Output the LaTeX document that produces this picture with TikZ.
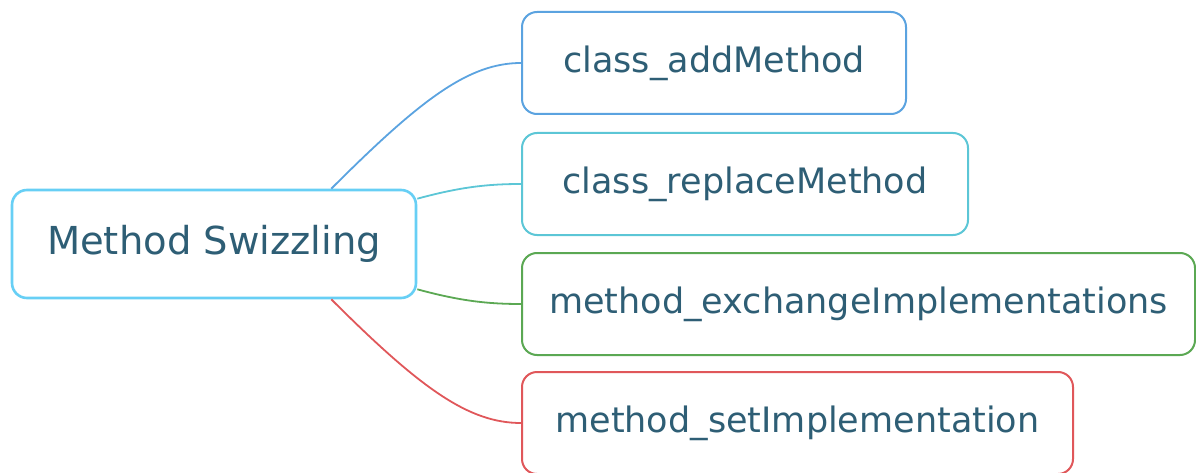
\documentclass[tikz,border=0pt]{standalone}
\usepackage{fontspec}
\setmainfont{DejaVu Sans}
\definecolor{txt}{HTML}{2E5E75}
\definecolor{croot}{HTML}{67CFF5}
\definecolor{cblue}{HTML}{5BA3E0}
\definecolor{ccyan}{HTML}{5CC6D6}
\definecolor{cgreen}{HTML}{5BA853}
\definecolor{cred}{HTML}{E0575A}
\begin{document}
\begin{tikzpicture}[x=1pt,y=-1pt,
  box/.style={draw, rounded corners=15pt, line width=2pt, fill=white, text=txt, inner sep=0pt,
    font=\fontsize{35}{40}\selectfont},
  link/.style={line width=1.8pt}]
\useasboundingbox (0,0) rectangle (1196,473);
\node[box, draw=croot, line width=2.6pt, minimum width=404pt, minimum height=108pt,
  font=\fontsize{38.5}{44}\selectfont] (root) at (214,244) {Method Swizzling};
\node[box, draw=cblue, minimum width=384pt, minimum height=102pt] (add) at (714,63) {class\_addMethod};
\node[box, draw=ccyan, minimum width=446pt, minimum height=102pt] (rep) at (745,184) {class\_replaceMethod};
\node[box, draw=cgreen, minimum width=673pt, minimum height=102pt] (exc) at (858.5,304) {method\_exchangeImplementations};
\node[box, draw=cred, minimum width=551pt, minimum height=102pt] (set) at (797.5,423) {method\_setImplementation};
\coordinate (rt) at ([xshift=-86pt]root.north east);
\coordinate (rb) at ([xshift=-86pt]root.south east);
\coordinate (rtr) at ([yshift=-10pt]root.north east);
\coordinate (rbr) at ([yshift=10pt]root.south east);
\draw[link, cblue] (rt) .. controls +(90,-90) and +(-52,0) .. (add.west);
\draw[link, ccyan] (rtr) .. controls +(44,-12) and +(-32,0) .. (rep.west);
\draw[link, cgreen] (rbr) .. controls +(44,12) and +(-32,0) .. (exc.west);
\draw[link, cred] (rb) .. controls +(90,90) and +(-52,0) .. (set.west);
\end{tikzpicture}
\end{document}
